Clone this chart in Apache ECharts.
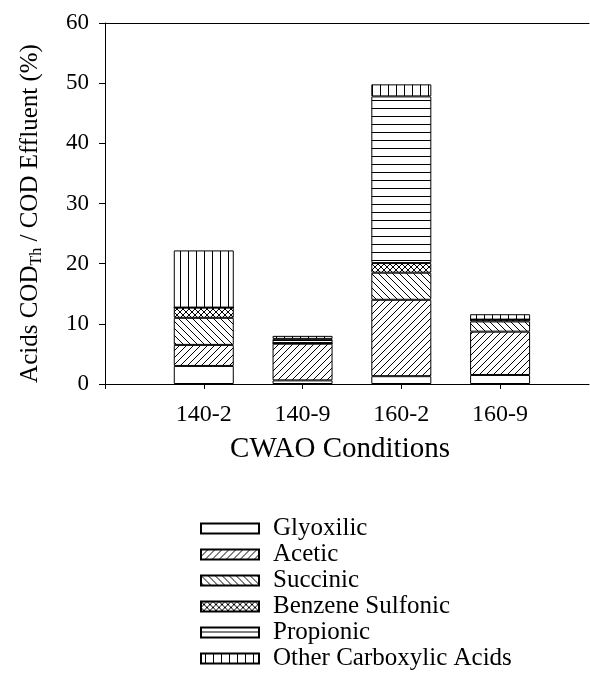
<!DOCTYPE html>
<html>
<head>
<meta charset="utf-8">
<script src="https://cdn.jsdelivr.net/npm/echarts@6/dist/echarts.min.js"></script>
<style>html,body{margin:0;padding:0;background:#fff}#chart{width:590px;height:677px}</style>
</head>
<body>
<div id="chart"></div>
<script>
const categories = ['140-2', '140-9', '160-2', '160-9'];
const seriesNames = ['Glyoxilic', 'Acetic', 'Succinic', 'Benzene Sulfonic', 'Propionic', 'Other Carboxylic Acids'];
const glyoxilic = [3.0, 0.6, 1.3, 1.5];
const acetic = [3.5, 6.1, 12.7, 7.2];
const succinic = [4.5, 0.1, 4.5, 1.7];
const benzeneSulfonic = [1.7, 0, 1.6, 0.3];
const propionic = [0, 0.7, 27.7, 0];
const otherAcids = [9.5, 0.5, 2.0, 0.9];
const yTicks = [0, 10, 20, 30, 40, 50, 60];

const FONT = 'Liberation Serif';
const W = 590;
const GRID_LEFT = 105, GRID_RIGHT = 1, GRID_TOP = 23, GRID_BOTTOM = 293;
const X_MAX = 4.9;
const UNIT = (W - GRID_LEFT - GRID_RIGHT) / X_MAX;

function makePattern(w, h, draw) {
  const c = document.createElement('canvas');
  c.width = w; c.height = h;
  const ctx = c.getContext('2d');
  ctx.fillStyle = '#fff';
  ctx.fillRect(0, 0, w, h);
  ctx.strokeStyle = '#000';
  ctx.lineWidth = 1;
  draw(ctx, w, h);
  return { image: c, repeat: 'repeat' };
}
function line(ctx, x1, y1, x2, y2) { ctx.beginPath(); ctx.moveTo(x1, y1); ctx.lineTo(x2, y2); ctx.stroke(); }

const patterns = [
  '#ffffff',
  makePattern(7, 7, (ctx, w, h) => { line(ctx, -1, h + 1, w + 1, -1); line(ctx, -1, 1, 1, -1); line(ctx, w - 1, h + 1, w + 1, h - 1); }),
  makePattern(7, 7, (ctx, w, h) => { line(ctx, -1, -1, w + 1, h + 1); line(ctx, w - 1, -1, w + 1, 1); line(ctx, -1, h - 1, 1, h + 1); }),
  makePattern(6, 6, (ctx, w, h) => {
    line(ctx, -1, h + 1, w + 1, -1); line(ctx, -1, 1, 1, -1); line(ctx, w - 1, h + 1, w + 1, h - 1);
    line(ctx, -1, -1, w + 1, h + 1); line(ctx, w - 1, -1, w + 1, 1); line(ctx, -1, h - 1, 1, h + 1);
  }),
  makePattern(8, 8, (ctx, w, h) => { line(ctx, 0, 4.5, w, 4.5); }),
  makePattern(8, 8, (ctx, w, h) => { line(ctx, 4.5, 0, 4.5, h); })
];

const seriesData = [glyoxilic, acetic, succinic, benzeneSulfonic, propionic, otherAcids];

const series = seriesData.map((arr, si) => ({
  name: seriesNames[si],
  type: 'bar',
  stack: 'total',
  barWidth: 60,
  xAxisIndex: 2,
  yAxisIndex: 1,
  data: arr,
  itemStyle: { color: patterns[si], borderColor: '#000', borderWidth: 1 },
  emphasis: { disabled: true },
  animation: false
}));

const chart = echarts.init(document.getElementById('chart'), null, { renderer: 'canvas' });
chart.setOption({
  animation: false,
  backgroundColor: '#fff',
  textStyle: { fontFamily: FONT, color: '#000' },
  grid: [
    { left: GRID_LEFT, right: GRID_RIGHT, top: GRID_TOP, bottom: GRID_BOTTOM, containLabel: false },
    { left: GRID_LEFT + 0.5 * UNIT, right: GRID_RIGHT + (X_MAX - categories.length - 0.5) * UNIT, top: GRID_TOP, bottom: GRID_BOTTOM, containLabel: false }
  ],
  legend: {
    orient: 'vertical',
    left: 200,
    top: 516,
    padding: 0,
    icon: 'rect',
    itemWidth: 58,
    itemHeight: 10,
    itemGap: 1,
    selectedMode: false,
    data: seriesNames,
    textStyle: { fontFamily: FONT, fontSize: 25, color: '#000', lineHeight: 25, padding: [0, 0, 0, 9] }
  },
  xAxis: [{
    type: 'value',
    gridIndex: 0,
    min: 0,
    max: X_MAX,
    interval: 1,
    position: 'bottom',
    name: 'CWAO Conditions',
    nameLocation: 'middle',
    nameGap: 51,
    nameTextStyle: { fontFamily: FONT, fontSize: 29, color: '#000', padding: [0, 14, 0, 0] },
    axisLine: { show: true, lineStyle: { color: '#000', width: 1 } },
    axisTick: { show: true, inside: false, length: 5, lineStyle: { color: '#000' } },
    axisLabel: {
      showMaxLabel: false,
      margin: 19,
      fontFamily: FONT, fontSize: 24, color: '#000',
      formatter: v => (v >= 1 && v <= categories.length && Number.isInteger(v)) ? categories[v - 1] : ''
    },
    splitLine: { show: false }
  }, {
    type: 'value',
    gridIndex: 0,
    min: 0,
    max: X_MAX,
    position: 'top',
    axisLine: { show: true, lineStyle: { color: '#000', width: 1 } },
    axisTick: { show: false },
    axisLabel: { show: false },
    splitLine: { show: false }
  }, {
    type: 'category',
    gridIndex: 1,
    data: categories,
    show: false
  }],
  yAxis: [{
    type: 'value',
    gridIndex: 0,
    min: yTicks[0],
    max: yTicks[yTicks.length - 1],
    interval: 10,
    name: 'Acids COD{sub|Th} / COD Effluent (%)',
    nameLocation: 'middle',
    nameGap: 60,
    nameRotate: 90,
    nameTextStyle: {
      fontFamily: FONT, fontSize: 25, color: '#000', lineHeight: 30, padding: [0, 20, 0, 0],
      rich: {
        sub: { fontFamily: FONT, fontSize: 16, color: '#000', verticalAlign: 'bottom', lineHeight: 30 }
      }
    },
    axisLine: { show: true, lineStyle: { color: '#000', width: 1 } },
    axisTick: { show: true, inside: false, length: 6, lineStyle: { color: '#000' } },
    axisLabel: { margin: 16, fontFamily: FONT, fontSize: 23, color: '#000' },
    splitLine: { show: false }
  }, {
    type: 'value',
    gridIndex: 1,
    min: yTicks[0],
    max: yTicks[yTicks.length - 1],
    show: false
  }],
  series: series
});
</script>
</body>
</html>
